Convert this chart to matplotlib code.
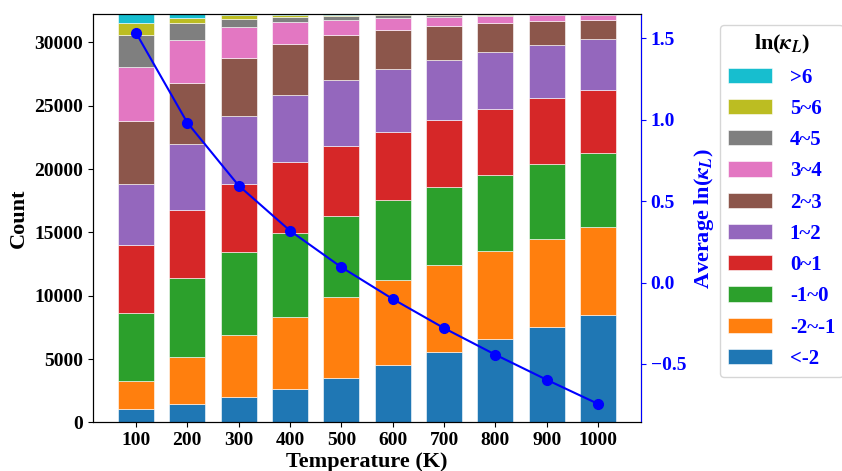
import matplotlib
matplotlib.use("Agg")
import matplotlib.pyplot as plt
import numpy as np

plt.rcParams["font.family"] = ["Liberation Serif", "DejaVu Serif"]
plt.rcParams["font.weight"] = "bold"
plt.rcParams["mathtext.fontset"] = "stix"

temperatures = [100, 200, 300, 400, 500, 600, 700, 800, 900, 1000]

# counts per ln(kappa_L) bin, bottom to top
bins = ["<-2", "-2~-1", "-1~0", "0~1", "1~2", "2~3", "3~4", "4~5", "5~6", ">6"]
lt_m2 = [1056, 1478, 2006, 2665, 3536, 4513, 5568, 6571, 7521, 8498]
m2_m1 = [2243, 3668, 4882, 5701, 6334, 6703, 6862, 6929, 6930, 6946]
m1_0 = [5383, 6254, 6532, 6581, 6436, 6343, 6121, 6017, 5980, 5796]
b0_1 = [5352, 5375, 5444, 5640, 5509, 5352, 5352, 5248, 5196, 5040]
b1_2 = [4830, 5196, 5353, 5249, 5185, 5011, 4703, 4472, 4163, 3983]
b2_3 = [4936, 4857, 4573, 4059, 3552, 3051, 2709, 2262, 1867, 1499]
b3_4 = [4254, 3356, 2446, 1709, 1236, 921, 710, 579, 493, 418]
b4_5 = [2525, 1368, 631, 421, 316, 263, 155, 122, 65, 45]
b5_6 = [973, 394, 263, 158, 96, 63, 45, 30, 17, 8]
gt_6 = [684, 290, 106, 53, 36, 16, 11, 6, 4, 3]
series = [lt_m2, m2_m1, m1_0, b0_1, b1_2, b2_3, b3_4, b4_5, b5_6, gt_6]

avg_ln_kappa = [1.533, 0.981, 0.595, 0.318, 0.094, -0.101, -0.280, -0.443, -0.597, -0.745]

colors = ["#1f77b4", "#ff7f0e", "#2ca02c", "#d62728", "#9467bd",
          "#8c564b", "#e377c2", "#7f7f7f", "#bcbd22", "#17becf"]

fig = plt.figure(figsize=(8.42, 4.71), dpi=100)
ax = fig.add_axes([0.1105, 0.103, 0.6508, 0.867])

bottom = np.zeros(len(temperatures))
handles = []
for label, vals, c in zip(bins, series, colors):
    h = ax.bar(temperatures, vals, width=70, bottom=bottom, color=c,
               edgecolor="white", linewidth=0.4, label=label)
    handles.append(h)
    bottom += np.array(vals)
ax.set_ylim(0, bottom.max())
ax.set_xticks(temperatures)
ax.set_xlabel("Temperature (K)", fontsize=16, fontweight="bold", labelpad=2)
ax.set_ylabel("Count", fontsize=16, fontweight="bold")
ax.tick_params(axis="both", labelsize=14)

ax2 = ax.twinx()
ax2.plot(temperatures, avg_ln_kappa, "o-", color="blue", linewidth=1.5, markersize=7)
ax2.set_ylabel(r"Average ln($\kappa_L$)", color="blue", fontsize=16, fontweight="bold")
ax2.tick_params(axis="y", colors="blue", labelsize=14)
ax2.spines["right"].set_color("blue")

leg = fig.legend(handles[::-1], bins[::-1], loc="upper left",
                 bbox_to_anchor=(720 / 842, 1 - 25 / 471),
                 title=r"ln($\kappa_L$)", labelcolor="blue",
                 prop={"size": 15, "weight": "bold"},
                 title_fontproperties={"size": 16, "weight": "bold"},
                 handlelength=2.1, handleheight=0.75, handletextpad=0.85,
                 labelspacing=0.54, borderaxespad=0)

fig.savefig("out.png", dpi=100)
